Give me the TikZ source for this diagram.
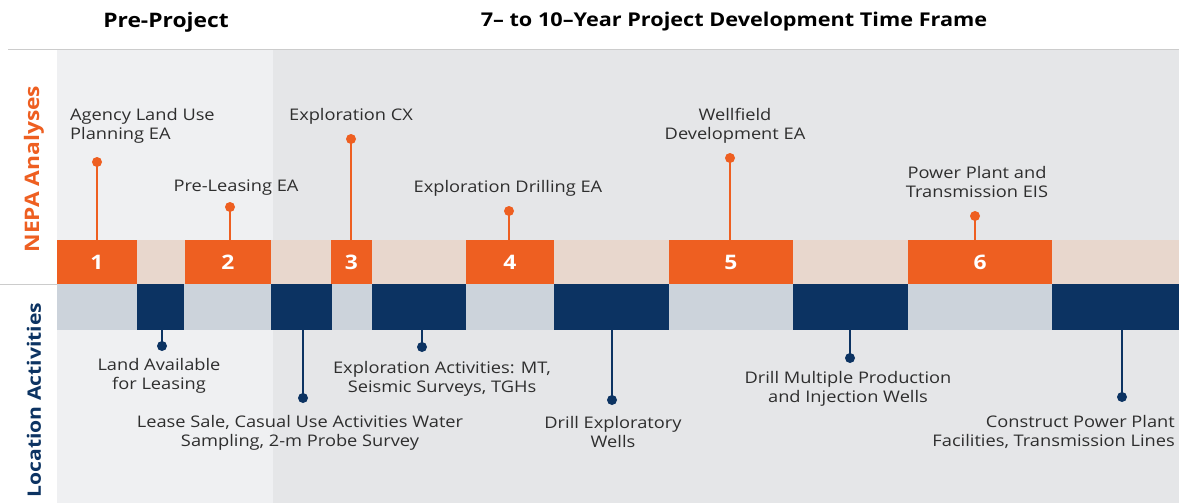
\documentclass[tikz,border=0pt]{standalone}
\usepackage{fontspec}
\setmainfont{Open Sans}[FakeStretch=1.14]
\definecolor{orng}{HTML}{EE5F21}
\definecolor{navy}{HTML}{0C3362}
\definecolor{peach}{HTML}{E8D7CD}
\definecolor{bluegray}{HTML}{CCD3DB}
\definecolor{bgleft}{HTML}{EFF0F2}
\definecolor{bgright}{HTML}{E5E6E8}
\definecolor{txt}{HTML}{2E2E2E}
\definecolor{rule}{HTML}{CCCCCC}
\tikzset{
 lbl/.style={font=\fontsize{16}{19}\selectfont, text=txt, align=center, inner sep=0pt},
 head/.style={font=\bfseries\fontsize{20}{22}\selectfont, text=black, inner sep=0pt},
 side/.style={font=\bfseries\fontsize{20}{22}\selectfont, inner sep=0pt, rotate=90},
 obox/.style={fill=orng, minimum height=44pt, inner sep=0pt, text=white, font=\bfseries\fontsize{20}{20}\selectfont},
 nbox/.style={fill=navy, minimum height=46pt, inner sep=0pt},
 odot/.style={circle, fill=orng, minimum size=10pt, inner sep=0pt},
 ndot/.style={circle, fill=navy, minimum size=10pt, inner sep=0pt},
 oline/.style={draw=orng, line width=2.5pt},
 nline/.style={draw=navy, line width=2.5pt},
}
\begin{document}
\begin{tikzpicture}[x=1pt,y=-1pt]
\useasboundingbox (0,0) rectangle (1179,503);
\fill[white] (0,0) rectangle (1179,503);
% backgrounds
\fill[bgleft] (57,50) rectangle (273,503);
\fill[bgright] (273,50) rectangle (1179,503);
\draw[rule, line width=0.8pt] (8,49.6) -- (1179,49.6);
\fill[peach] (57,240) rectangle (1179,284);
\fill[bluegray] (57,284) rectangle (1179,330);
\draw[rule, line width=1pt] (0,284) -- (57,284);
% headings
\node[head] (hpre) at (166,22) {Pre-Project};
\node[head, font=\bfseries\fontsize{19}{22}\selectfont] (hmain) at (734,22) {7– to 10–Year Project Development Time Frame};
\node[side, text=orng] (snepa) at (34,169) {NEPA Analyses};
\node[side, text=navy, font=\bfseries\fontsize{18.5}{22}\selectfont] (sloc) at (34,400) {Location Activities};
% orange boxes
\node[obox, minimum width=80pt] (n1) at (97,262) {1};
\node[obox, minimum width=86pt] (n2) at (228,262) {2};
\node[obox, minimum width=41pt] (n3) at (351.5,262) {3};
\node[obox, minimum width=88pt] (n4) at (510,262) {4};
\node[obox, minimum width=124pt] (n5) at (731,262) {5};
\node[obox, minimum width=144pt] (n6) at (980,262) {6};
% navy boxes
\node[nbox, minimum width=47pt] (a1) at (160.5,307) {};
\node[nbox, minimum width=61pt] (a2) at (301.5,307) {};
\node[nbox, minimum width=94pt] (a3) at (419,307) {};
\node[nbox, minimum width=115pt] (a4) at (611.5,307) {};
\node[nbox, minimum width=115pt] (a5) at (850.5,307) {};
\node[nbox, minimum width=127pt] (a6) at (1115.5,307) {};
% orange markers
\node[odot] (o1) at (97,162) {};
\node[odot] (o2) at (230,207) {};
\node[odot] (o3) at (351,139) {};
\node[odot] (o4) at (509,211) {};
\node[odot] (o5) at (730,158) {};
\node[odot] (o6) at (975,216) {};
\foreach \i in {1,...,6} {\draw[oline] (o\i.center) -- (o\i.center |- n\i.north);}
% navy markers
\node[ndot] (d1) at (162,346) {};
\node[ndot] (d2) at (303,398) {};
\node[ndot] (d3) at (422,347) {};
\node[ndot] (d4) at (612,400) {};
\node[ndot] (d5) at (850,358) {};
\node[ndot] (d6) at (1122,397) {};
\foreach \i in {1,...,6} {\draw[nline] (d\i.center) -- (d\i.center |- a\i.south);}
% orange labels
\node[lbl, align=left, anchor=west] (t1) at (70,125.5) {Agency Land Use\\Planning EA};
\node[lbl] (t2) at (236,188) {Pre-Leasing EA};
\node[lbl] (t3) at (351,116) {Exploration CX};
\node[lbl] (t4) at (508,188) {Exploration Drilling EA};
\node[lbl] (t5) at (735,125.5) {Wellfield\\Development EA};
\node[lbl] (t6) at (977,182) {Power Plant and\\Transmission EIS};
% navy labels
\node[lbl] (b1) at (159,375.5) {Land Available\\for Leasing};
\node[lbl] (b2) at (300,432.5) {Lease Sale, Casual Use Activities Water\\Sampling, 2-m Probe Survey};
\node[lbl] (b3) at (442,378.5) {Exploration Activities: MT,\\Seismic Surveys, TGHs};
\node[lbl] (b4) at (613,431.5) {Drill Exploratory\\Wells};
\node[lbl] (b5) at (848,388.5) {Drill Multiple Production\\and Injection Wells};
\node[lbl, align=right, anchor=east] (b6) at (1175,431.5) {Construct Power Plant\\Facilities, Transmission Lines};
\end{tikzpicture}
\end{document}
